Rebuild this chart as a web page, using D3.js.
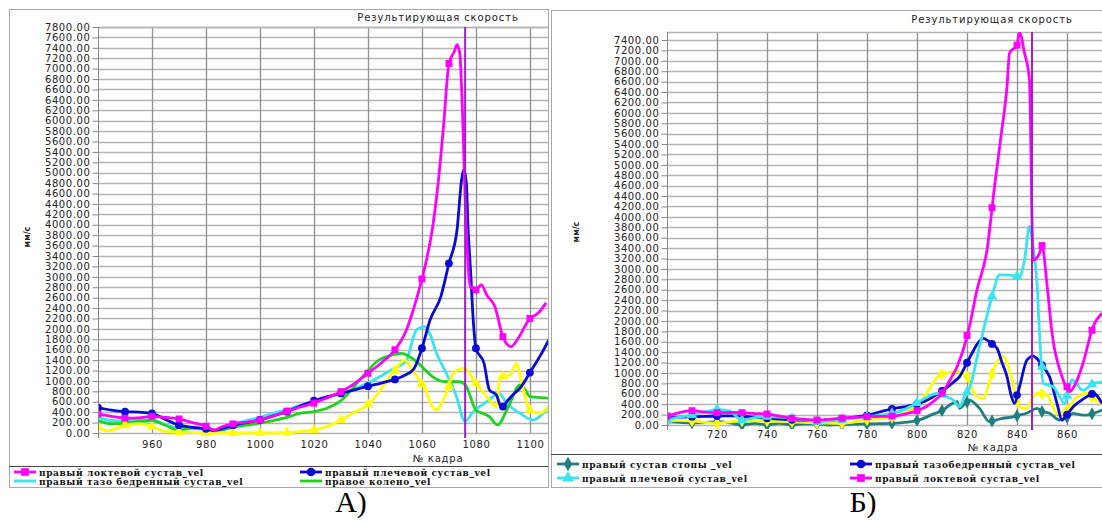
<!DOCTYPE html>
<html>
<head>
<meta charset="utf-8">
<script src="https://cdn.jsdelivr.net/npm/d3@7"></script>
<style>
  body { margin: 0; background: #fff; }
  .tick text { font-family: "DejaVu Sans", sans-serif; font-size: 10px; letter-spacing: 0.6px; fill: #222; }
</style>
</head>
<body>
<div id="chart"></div>
<script>
// ---- panel A data: [frame, mm/s] ----
const aElbow = [[940,365],[945,320],[950,285],[955,290],[960,320],[965,300],[970,270],[975,200],[980,130],[983,60],[986,120],[990,175],[995,210],[1000,250],[1005,330],[1010,420],[1015,500],[1020,575],[1025,680],[1030,795],[1035,950],[1040,1148],[1045,1350],[1050,1600],[1054,1950],[1057,2400],[1060,2960],[1062,3400],[1064,3970],[1066,4800],[1068,5900],[1070,7100],[1072,7330],[1073,7460],[1074,7300],[1075,6200],[1076,4500],[1077,3300],[1078,2800],[1080,2750],[1082,2850],[1084,2650],[1087,2430],[1090,1850],[1093,1660],[1096,1850],[1100,2200],[1103,2300],[1106,2500]];
const aShoulder = [[940,487],[945,440],[950,410],[955,400],[960,378],[965,260],[970,150],[975,110],[980,80],[983,50],[987,100],[990,150],[995,200],[1000,250],[1005,330],[1010,410],[1015,520],[1020,620],[1025,700],[1030,760],[1035,830],[1040,900],[1045,960],[1050,1030],[1054,1120],[1057,1230],[1060,1628],[1063,2170],[1067,2620],[1070,3260],[1073,3900],[1074.7,4865],[1075.5,5058],[1076.5,4770],[1077,4040],[1078,3135],[1079,2170],[1080,1628],[1083,1340],[1085,825],[1087.6,730],[1089.5,475],[1091.4,600],[1094,750],[1096.3,860],[1100.6,1210],[1104,1500],[1107,1790]];
const aHip = [[940,300],[945,240],[950,230],[955,250],[960,250],[965,150],[970,100],[975,90],[980,70],[983,50],[987,120],[990,170],[995,240],[1000,300],[1005,380],[1010,450],[1015,530],[1020,600],[1025,690],[1030,760],[1035,850],[1040,960],[1045,1100],[1050,1250],[1054,1370],[1058,1980],[1061,2045],[1063,1900],[1065.4,1530],[1069,1150],[1072.8,700],[1075.9,220],[1079,410],[1084,600],[1088.6,760],[1091.4,570],[1096.3,380],[1101,250],[1107,505]];
const aKnee = [[940,237],[945,180],[950,190],[955,220],[960,240],[965,150],[970,45],[975,100],[980,80],[983,30],[987,70],[990,110],[995,150],[1000,190],[1005,240],[1010,300],[1015,380],[1020,410],[1025,480],[1030,620],[1037,1020],[1044,1400],[1049,1500],[1052.5,1530],[1055,1480],[1058,1370],[1061,1220],[1064,1080],[1069,985],[1074,985],[1076.5,890],[1080,440],[1085,315],[1088,155],[1092,505],[1096.3,925],[1098,850],[1100,700],[1104,680],[1107,670]];
const aYellow = [[940,120],[943,40],[947,90],[950,150],[955,180],[960,120],[965,30],[970,20],[975,10],[980,0],[990,0],[1000,0],[1010,10],[1015,30],[1020,60],[1025,130],[1030,250],[1035,400],[1040.7,570],[1045,850],[1049,1148],[1053.7,1400],[1056,1250],[1059,1020],[1061.7,795],[1063,600],[1065.4,440],[1067,550],[1069,760],[1072,1180],[1076,1245],[1079,1020],[1084,700],[1087.6,505],[1088.9,1080],[1092.6,1115],[1095,1340],[1097,955],[1100,440],[1103.7,380],[1107,505]];

// ---- panel B data ----
const bElbow = [[700,173],[705,240],[710,275],[715,250],[720,237],[725,240],[730,237],[735,220],[740,212],[745,170],[750,128],[755,110],[760,96],[765,110],[769,128],[775,145],[780.5,160],[785,165],[791,173],[796,220],[801,288],[806,430],[810.5,640],[813,850],[816,1120],[820.5,1795],[824,2600],[828,3365],[831,4580],[834,5700],[836,6500],[837,7150],[840,7300],[841,7540],[843,7150],[845,6630],[846,3940],[846.4,3170],[849,3300],[850,3450],[852,2700],[854,1770],[858,930],[861,640],[863.5,800],[866.4,1185],[870.4,1890],[874,2150]];
const bShoulder = [[700,96],[705,150],[710,192],[715,250],[720,300],[725,270],[730,96],[735,140],[740,160],[745,150],[750,130],[755,100],[760,64],[765,80],[770,100],[775,130],[780.5,160],[786,190],[791,230],[796,320],[801,450],[805,560],[808.5,610],[811,560],[814.5,480],[817,350],[819,550],[821,710],[825,1505],[830,2470],[833,2885],[837,2880],[841,2850],[843,3170],[845,3815],[846.5,3400],[848,2725],[849,1763],[850.5,800],[854.5,735],[857,550],[859,415],[862,865],[866.5,670],[870.5,800],[874,830]];
const bHip = [[700,130],[705,150],[710,160],[715,165],[720,173],[725,175],[730,170],[735,150],[740,130],[745,115],[750,100],[755,90],[760,80],[765,100],[770,120],[775,150],[780.5,190],[785,250],[791,320],[796,360],[801,415],[806,530],[810.5,670],[814,800],[817,930],[819.5,1150],[822,1380],[824,1550],[826.5,1665],[829,1600],[832,1475],[834,1200],[836,930],[837.5,600],[839,415],[841,735],[844,1250],[846.5,1325],[848.5,1250],[850.5,1120],[853,930],[856,415],[858,96],[860,200],[862.5,350],[865,450],[868,545],[870.5,610],[874,415]];
const bYellow = [[700,80],[705,90],[710,80],[715,50],[720,32],[725,60],[730,80],[735,80],[740,80],[745,70],[750,60],[755,50],[760,40],[765,35],[770,30],[775,60],[780,100],[785,120],[790,150],[796,250],[801,415],[805,700],[809,960],[812,1000],[816,1025],[820,930],[822,700],[824,545],[826.5,510],[828.5,750],[830.5,1058],[834.5,1315],[836,1200],[838,865],[840.5,350],[844,320],[846,500],[848,610],[852,580],[856,225],[860,290],[864,545],[868,610],[871,500],[874,415]];
const bFoot = [[700,64],[705,50],[710,40],[715,45],[720,64],[725,40],[730,0],[735,30],[740,0],[745,30],[750,0],[755,20],[760,20],[765,0],[770,10],[775,15],[780,20],[785,25],[790,30],[795,50],[801,96],[806,200],[810.5,290],[813,380],[816,450],[817,320],[819,400],[821,480],[825,320],[829,64],[832,100],[834.5,130],[838,150],[841,190],[844,230],[848,320],[850,260],[853,225],[857,96],[860,150],[862.5,225],[865,200],[868,190],[871,230],[874,290]];

const aXTicks = [960, 980, 1000, 1020, 1040, 1060, 1080, 1100];
const bXTicks = [720, 740, 760, 780, 800, 820, 840, 860];
const aYMax = 7800, bYMax = 7400;
const aCursor = 1076, bCursor = 846;
const title = "Результирующая скорость";
const xTitle = "№ кадра", yTitle = "мм/с";

const W = 1102, H = 521;
const svg = d3.select("#chart").append("svg").attr("width", W).attr("height", H);
svg.append("rect").attr("width", W).attr("height", H).attr("fill", "#fff");

function marker(g, shape, color, size) {
  const sym = { square: d3.symbolSquare, circle: d3.symbolCircle, triangle: d3.symbolTriangle, diamond: d3.symbolDiamond }[shape];
  g.append("path").attr("d", d3.symbol().type(sym).size(size)()).attr("fill", color);
}

// value of a series at frame f, read from its own points
function interp(data, f) {
  for (let i = 1; i < data.length; i++) {
    if (data[i][0] >= f) {
      const [x0, y0] = data[i - 1], [x1, y1] = data[i];
      return y0 + (y1 - y0) * (f - x0) / (x1 - x0);
    }
  }
  return null;
}

function drawPanel(p) {
  const g = svg.append("g");
  // panel frame
  g.append("rect").attr("x", p.frame[0] + 0.5).attr("y", p.frame[1] + 0.5)
    .attr("width", p.frame[2]).attr("height", p.frame[3])
    .attr("fill", "#fff").attr("stroke", "#a8a8a8");
  g.append("line").attr("x1", p.frame[0]).attr("x2", p.frame[0] + p.frame[2])
    .attr("y1", p.legendY + 0.5).attr("y2", p.legendY + 0.5).attr("stroke", "#444");

  const x = d3.scaleLinear().domain(p.xDomain).range([p.left, p.right]);
  const y = d3.scaleLinear().domain([0, p.yTop]).range([p.bottom, p.top]);
  const yTicks = d3.range(0, p.yMax + 1, 200);

  // horizontal grid
  g.append("g").selectAll("line").data(yTicks).join("line")
    .attr("x1", p.left).attr("x2", p.right)
    .attr("y1", d => Math.round(y(d)) + 0.5).attr("y2", d => Math.round(y(d)) + 0.5)
    .attr("stroke", "#b4b4b4").attr("stroke-width", 1.6);
  // vertical grid
  g.append("g").selectAll("line").data(p.xTicks).join("line")
    .attr("x1", d => Math.round(x(d)) + 0.5).attr("x2", d => Math.round(x(d)) + 0.5)
    .attr("y1", p.top).attr("y2", p.bottom)
    .attr("stroke", "#909090").attr("stroke-width", 1.3);
  g.append("line").attr("x1", p.left).attr("x2", p.right).attr("y1", p.top + 0.5).attr("y2", p.top + 0.5)
    .attr("stroke", "#b4b4b4").attr("stroke-width", 1.6);

  // y axis
  const ya = g.append("g").attr("transform", `translate(${p.left + 0.5},0)`)
    .call(d3.axisLeft(y).tickValues(yTicks).tickFormat(d3.format(".2f")).tickSize(6).tickPadding(2));
  ya.select(".domain").attr("stroke", "#888").attr("d", `M0,${p.top}V${p.bottom + 5}`);
  ya.selectAll(".tick line").attr("stroke", "#888");

  // x axis labels
  const xa = g.append("g").attr("transform", `translate(0,${p.bottom})`)
    .call(d3.axisBottom(x).tickValues(p.xTicks).tickFormat(d3.format("d")).tickSize(0).tickPadding(p.xPad));
  xa.select(".domain").remove();

  g.append("text").attr("x", p.titleX).attr("y", p.titleY).attr("text-anchor", "middle")
    .style("font-family", "DejaVu Sans").style("font-size", "10px").style("letter-spacing", "0.9px")
    .attr("fill", "#222").text(title);
  g.append("text").attr("x", p.xTitleX).attr("y", p.xTitleY).attr("text-anchor", "middle")
    .style("font-family", "DejaVu Sans").style("font-size", "10px").style("letter-spacing", "0.8px")
    .attr("fill", "#222").text(xTitle);
  g.append("text").attr("transform", `translate(${p.yTitleX},${p.yTitleY}) rotate(-90)`)
    .attr("text-anchor", "middle")
    .style("font-family", "DejaVu Sans").style("font-size", "8px").style("font-weight", "bold")
    .attr("fill", "#222").text(yTitle);

  // series
  const clipId = "clip" + p.id;
  svg.append("clipPath").attr("id", clipId).append("rect")
    .attr("x", p.left + 1).attr("y", p.top).attr("width", p.right - p.left - 1).attr("height", p.bottom - p.top + 4);
  const plot = g.append("g").attr("clip-path", `url(#${clipId})`);
  const line = d3.line().x(d => x(d[0])).y(d => y(d[1])).curve(d3.curveMonotoneX);
  p.series.forEach(s => {
    plot.append("path").datum(s.data).attr("d", line)
      .attr("fill", "none").attr("stroke", s.color).attr("stroke-width", 2.8).attr("stroke-linejoin", "round");
    if (s.shape) {
      const frames = d3.range(Math.ceil(p.xDomain[0] / 10) * 10, p.xDomain[1], 10);
      frames.forEach(f => {
        const v = interp(s.data, f);
        if (v == null) return;
        const m = plot.append("g").attr("transform", `translate(${x(f)},${y(v)})`);
        marker(m, s.shape, s.color, 48);
      });
    }
  });
  // cursor
  g.append("line").attr("x1", x(p.cursor)).attr("x2", x(p.cursor)).attr("y1", p.top).attr("y2", p.bottom + 5)
    .attr("stroke", "#a01ed2").attr("stroke-width", 2);

  // legend
  const lg = g.append("g");
  p.legend.forEach(l => {
    const s = p.series[l.s];
    const it = lg.append("g").attr("transform", `translate(${l.x},${l.y})`);
    it.append("line").attr("x1", 0).attr("x2", 22).attr("stroke", s.color).attr("stroke-width", 2.8);
    if (s.shape) marker(it.append("g").attr("transform", "translate(11,0)"), s.shape, s.color, 60);
    it.append("text").attr("x", 25).attr("y", 3.5)
      .style("font-family", "'DejaVu Serif', 'Liberation Serif', serif").style("font-size", "9px")
      .style("font-weight", "bold").style("letter-spacing", "0.6px")
      .attr("fill", "#111").text(s.name);
  });
}

drawPanel({
  id: "A", frame: [9, 9, 539, 478], legendY: 466,
  xDomain: [940, 1106.7], left: 98, right: 548, top: 27, bottom: 433,
  yTop: aYMax, yMax: aYMax, xTicks: aXTicks, xPad: 8, cursor: aCursor,
  titleX: 438, titleY: 21, xTitleX: 438, xTitleY: 462, yTitleX: 30, yTitleY: 237,
  series: [
    { name: "правый тазо бедренный сустав_vel", data: aHip, color: "#38e4f2" },
    { name: "правое колено_vel", data: aKnee, color: "#1ed21e" },
    { name: "yellow", data: aYellow, color: "#ffff00", shape: "triangle" },
    { name: "правый плечевой сустав_vel", data: aShoulder, color: "#0a0ad2", shape: "circle" },
    { name: "правый локтевой сустав_vel", data: aElbow, color: "#ff00ff", shape: "square" }
  ],
  legend: [{ s: 4, x: 14, y: 472 }, { s: 0, x: 14, y: 481 }, { s: 3, x: 300, y: 472 }, { s: 1, x: 300, y: 481 }]
});

drawPanel({
  id: "B", frame: [551, 10, 551, 477], legendY: 454,
  xDomain: [700, 874], left: 667, right: 1102, top: 32, bottom: 425,
  yTop: 7554, yMax: bYMax, xTicks: bXTicks, xPad: 6, cursor: bCursor,
  titleX: 992, titleY: 23, xTitleX: 993, xTitleY: 451, yTitleX: 579, yTitleY: 232,
  series: [
    { name: "правый сустав стопы _vel", data: bFoot, color: "#1f7f7f", shape: "diamond" },
    { name: "yellow", data: bYellow, color: "#ffff00", shape: "diamond" },
    { name: "правый тазобедренный сустав_vel", data: bHip, color: "#0a0ad2", shape: "circle" },
    { name: "правый плечевой сустав_vel", data: bShoulder, color: "#38e4f2", shape: "triangle" },
    { name: "правый локтевой сустав_vel", data: bElbow, color: "#ff00ff", shape: "square" }
  ],
  legend: [{ s: 0, x: 557, y: 464 }, { s: 3, x: 557, y: 478 }, { s: 2, x: 850, y: 464 }, { s: 4, x: 850, y: 478 }]
});

// captions
svg.append("text").attr("x", 351).attr("y", 512).attr("text-anchor", "middle")
  .style("font-family", "Liberation Serif").style("font-size", "30px").text("А)");
svg.append("text").attr("x", 863).attr("y", 512).attr("text-anchor", "middle")
  .style("font-family", "Liberation Serif").style("font-size", "30px").text("Б)");
</script>
</body>
</html>
